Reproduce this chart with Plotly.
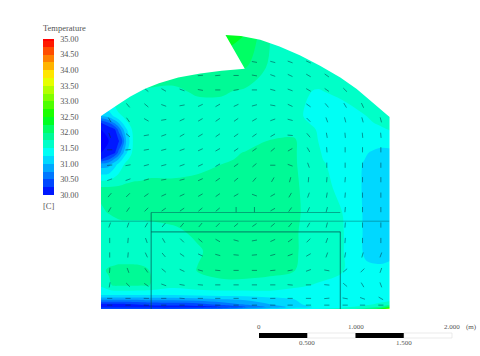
import plotly.graph_objects as go
import math

PX_PER_M = 96.5

grid_x = [0, .08, .14, .18, .22, .26, .33, .42, .5, .75, 1, 1.25, 1.5, 1.75, 2, 2.25, 2.5, 2.75, 2.9, 3]
grid_y = [0, .02, .05, .1, .15, .25, .4, .6, .8, 1.0, 1.25, 1.5, 1.55, 1.62, 1.74, 1.86, 1.93, 2.0, 2.25, 2.5, 2.85]
temperature = [
    [30.5, 30.5, 30.5, 30.5, 30.5, 30.5, 30.5, 30.5, 30.5, 30.5, 30.6, 30.7, 31.0, 31.2, 31.4, 31.5, 31.6, 31.9, 32.4, 33.6],
    [30.15, 30.15, 30.15, 30.15, 30.15, 30.15, 30.15, 30.15, 30.15, 30.15, 30.15, 30.25, 30.5, 30.8, 31.1, 31.3, 31.45, 31.6, 31.8, 32.3],
    [30.2, 30.2, 30.2, 30.2, 30.2, 30.22, 30.25, 30.28, 30.3, 30.35, 30.4, 30.6, 30.8, 31.0, 31.2, 31.35, 31.4, 31.45, 31.55, 31.7],
    [30.8, 30.8, 30.8, 30.8, 30.8, 30.8, 30.8, 30.82, 30.85, 30.85, 30.9, 31.0, 31.05, 31.15, 31.25, 31.35, 31.4, 31.4, 31.4, 31.4],
    [31.3, 31.3, 31.3, 31.3, 31.3, 31.3, 31.3, 31.3, 31.3, 31.3, 31.35, 31.35, 31.35, 31.4, 31.4, 31.42, 31.4, 31.35, 31.3, 31.3],
    [31.55, 31.7, 31.8, 31.8, 31.8, 31.8, 31.8, 31.78, 31.76, 31.6, 31.65, 31.7, 31.7, 31.65, 31.55, 31.48, 31.38, 31.35, 31.3, 31.3],
    [31.7, 31.78, 31.8, 31.82, 31.82, 31.82, 31.82, 31.8, 31.75, 31.62, 31.76, 31.82, 31.82, 31.82, 31.76, 31.6, 31.52, 31.3, 31.3, 31.3],
    [31.6, 31.6, 31.6, 31.6, 31.6, 31.6, 31.6, 31.6, 31.6, 31.62, 31.72, 31.85, 31.85, 31.85, 31.78, 31.62, 31.52, 31.2, 31.15, 31.2],
    [31.6, 31.6, 31.6, 31.6, 31.6, 31.6, 31.6, 31.6, 31.62, 31.7, 31.8, 31.87, 31.87, 31.87, 31.78, 31.62, 31.52, 31.2, 31.1, 31.12],
    [31.72, 31.76, 31.8, 31.83, 31.85, 31.85, 31.85, 31.85, 31.85, 31.85, 31.88, 31.92, 31.92, 31.92, 31.8, 31.62, 31.5, 31.2, 31.1, 31.1],
    [31.8, 31.8, 31.8, 31.8, 31.8, 31.8, 31.8, 31.8, 31.8, 31.8, 31.82, 31.85, 31.85, 31.85, 31.8, 31.58, 31.45, 31.2, 31.1, 31.12],
    [30.85, 30.9, 31.15, 31.3, 31.45, 31.55, 31.62, 31.64, 31.68, 31.68, 31.7, 31.75, 31.82, 31.87, 31.78, 31.55, 31.4, 31.22, 31.12, 31.15],
    [30.25, 30.5, 30.8, 31.0, 31.25, 31.45, 31.6, 31.62, 31.65, 31.64, 31.66, 31.72, 31.78, 31.85, 31.78, 31.53, 31.38, 31.24, 31.16, 31.18],
    [30.0, 30.05, 30.2, 30.55, 30.9, 31.2, 31.55, 31.62, 31.64, 31.64, 31.64, 31.7, 31.76, 31.84, 31.78, 31.52, 31.36, 31.26, 31.2, 31.2],
    [30.0, 30.0, 30.05, 30.2, 30.5, 31.0, 31.5, 31.62, 31.62, 31.62, 31.62, 31.64, 31.68, 31.76, 31.78, 31.5, 31.32, 31.3, 31.32, 31.34],
    [30.0, 30.05, 30.2, 30.55, 30.9, 31.2, 31.55, 31.62, 31.6, 31.6, 31.6, 31.6, 31.62, 31.66, 31.68, 31.48, 31.35, 31.38, 31.45, 31.52],
    [30.25, 30.5, 30.8, 31.0, 31.25, 31.45, 31.6, 31.62, 31.6, 31.6, 31.6, 31.6, 31.6, 31.6, 31.58, 31.45, 31.38, 31.45, 31.55, 31.65],
    [31.0, 31.1, 31.3, 31.45, 31.5, 31.58, 31.62, 31.64, 31.62, 31.62, 31.62, 31.62, 31.6, 31.6, 31.55, 31.42, 31.4, 31.5, 31.65, 31.78],
    [31.9, 31.85, 31.8, 31.78, 31.76, 31.75, 31.74, 31.73, 31.72, 31.7, 31.78, 31.78, 31.7, 31.6, 31.55, 31.48, 31.55, 31.65, 31.7, 31.72],
    [31.9, 31.9, 31.9, 31.9, 31.9, 31.9, 31.9, 31.9, 31.9, 31.9, 31.9, 31.95, 32.0, 31.7, 31.68, 31.65, 31.65, 31.7, 31.72, 31.72],
    [32.0, 32.0, 32.0, 32.0, 32.0, 32.0, 32.0, 32.0, 32.0, 32.0, 32.2, 32.5, 32.25, 31.75, 31.7, 31.7, 31.7, 31.7, 31.7, 31.7],
]

arrow_x = [.09, .28, .47, .65, .84, 1.03, 1.21, 1.40, 1.59, 1.78, 1.96, 2.15, 2.34, 2.53, 2.71, 2.90]
arrow_y = [2.56, 2.42, 2.27, 2.11, 1.96, 1.80, 1.65, 1.49, 1.34, 1.18, 1.03, .87, .71, .56, .40, .25, .11, .04]
arrow_angle = [
    [0, 0, 0, 0, 0, 0, 0, 0, -10, -15, -20, -25, -30, -35, -40, -45],
    [0, 0, 0, 0, 0, 5, 5, 0, -10, -20, -25, -30, -35, -40, -45, -50],
    [-45, -45, -40, -30, -20, -10, 0, 10, 0, -15, -20, -30, -35, -45, -50, -55],
    [-50, -50, -40, -20, 10, 25, 30, 25, 15, -10, -25, -35, -50, -60, -65, -70],
    [-60, -55, -30, 10, 25, 30, 35, 35, 30, 20, -15, -45, -70, -75, -75, -75],
    [-70, -40, 10, 20, 30, 30, 35, 35, 35, 30, -5, -50, -80, -85, -85, -85],
    [0, 5, 10, 15, 20, 25, 30, 35, 35, 40, 30, -60, -85, -90, -90, -90],
    [5, 10, 15, 15, 20, 25, 30, 35, 40, 0, -20, -70, 90, 90, 90, 90],
    [20, 20, 15, 10, 15, 25, 35, 40, 50, 60, 75, 85, 85, 85, 90, 90],
    [50, 45, 35, 25, 25, 30, 35, 30, -20, 30, 60, 70, 80, 85, 90, 90],
    [60, 55, 45, 35, 35, 40, 40, 90, 90, 30, 55, 65, 75, 85, 90, 90],
    [70, 70, 60, 50, 50, 50, 45, 40, 35, 40, 50, 60, 75, 85, 90, 90],
    [90, 85, -70, -60, -45, -40, -30, -15, 10, 25, 35, 45, 70, 85, 90, 90],
    [90, 85, -65, -50, -35, -25, -15, -5, 5, 15, 20, 30, 70, 80, 75, 70],
    [85, -70, -55, -40, -25, -15, -5, 0, 0, 5, 10, 20, -10, 40, 45, 70],
    [80, -45, -35, -20, -10, -5, 0, 0, 0, 0, -5, 0, -5, -40, -60, -70],
    [0, 0, 0, 0, -5, 0, 0, 0, 0, 0, 0, 0, 5, -10, -20, -30],
    [0, 0, 0, 0, 0, 0, 0, 0, 0, 0, 0, 0, 0, 0, 0, 0],
]

domain_outline = [
    (0, 2.0), (.15, 2.1), (.3, 2.2), (.45, 2.28), (.6, 2.34), (.8, 2.4), (1.03, 2.44), (1.25, 2.47), (1.49, 2.49),
    (1.29, 2.84), (1.45, 2.83), (1.65, 2.79), (1.85, 2.72), (2.06, 2.63), (2.27, 2.52), (2.48, 2.40),
    (2.65, 2.28), (2.79, 2.16), (2.99, 1.99), (2.99, 0), (0, 0),
]
inner_lines = [
    ([0, 2.99], [.91, .91], 0.7),
    ([.52, 2.48], [1.0, 1.0], 0.8),
    ([.52, 2.48], [.80, .80], 1.2),
    ([.52, .52], [0, 1.0], 1.2),
    ([2.48, 2.48], [0, .80], 1.2),
]
colorbar_ticks = [30, 30.5, 31, 31.5, 32, 32.5, 33, 33.5, 34, 34.5, 35]
scale_black = [(0, .5), (1, 1.5)]
scale_white = [(.5, 1), (1.5, 2)]
scale_top_labels = [(0, "0"), (1, "1.000"), (2, "2.000")]
scale_bottom_labels = [(.5, "0.500"), (1.5, "1.500")]

x_range = [-101 / PX_PER_M, 379 / PX_PER_M]
y_range = [-47 / PX_PER_M, 309 / PX_PER_M]
SCALE_X0 = (259 - 101) / PX_PER_M
TEXT = "#555555"
FONT = "Liberation Serif"

fig = go.Figure()
fig.add_trace(go.Contour(
    x=grid_x, y=grid_y, z=temperature, zmin=30, zmax=35,
    autocontour=False,
    contours=dict(start=30, end=35, size=.25, coloring="fill", showlines=False),
    line=dict(width=0, smoothing=1),
    colorscale=[[0, "#0000ff"], [.25, "#00f0ff"], [.275, "#00fff5"], [.325, "#00ffc8"], [.375, "#00fa96"],
                [.425, "#00ff64"], [.5, "#00ff00"], [.75, "#ffff00"], [1, "#ff0000"]],
    colorbar=dict(
        x=43 / 480, xanchor="left", xpad=0, y=1 - 39 / 356, yanchor="top", ypad=0,
        thickness=11, len=156, lenmode="pixels", outlinewidth=0,
        tickmode="array", tickvals=colorbar_ticks, ticktext=[f"{v:.2f}" for v in colorbar_ticks],
        ticks="outside", ticklen=5, tickcolor="rgba(0,0,0,0)",
        tickfont=dict(family=FONT, size=8.2, color=TEXT),
    ),
    hoverinfo="skip",
))

ax, ay = [], []
half = 2.6 / PX_PER_M
for row_y, row in zip(arrow_y, arrow_angle):
    for col_x, ang in zip(arrow_x, row):
        dx, dy = half * math.cos(math.radians(ang)), half * math.sin(math.radians(ang))
        ax += [col_x - dx, col_x + dx, None]
        ay += [row_y - dy, row_y + dy, None]
fig.add_trace(go.Scatter(x=ax, y=ay, mode="lines", line=dict(color="rgba(0,50,60,0.5)", width=1),
                         showlegend=False, hoverinfo="skip"))
for lx, ly, w in inner_lines:
    fig.add_trace(go.Scatter(x=lx, y=ly, mode="lines", line=dict(color="rgba(0,80,80,0.6)", width=w),
                             showlegend=False, hoverinfo="skip"))

big = f"M{x_range[0]},{y_range[0]}L{x_range[1]},{y_range[0]}L{x_range[1]},{y_range[1]}L{x_range[0]},{y_range[1]}Z"
inner = "M" + "L".join(f"{px},{py}" for px, py in domain_outline) + "Z"
shapes = [dict(type="path", path=big + inner, fillcolor="white", line_width=0, layer="above", fillrule="evenodd")]
bar_y0, bar_y1 = -29 / PX_PER_M, -24 / PX_PER_M
for a, b in scale_white:
    shapes.append(dict(type="rect", x0=SCALE_X0 + a, x1=SCALE_X0 + b, y0=bar_y0, y1=bar_y1,
                       fillcolor="white", line=dict(color="#dddddd", width=.6), layer="above"))
for a, b in scale_black:
    shapes.append(dict(type="rect", x0=SCALE_X0 + a, x1=SCALE_X0 + b, y0=bar_y0, y1=bar_y1,
                       fillcolor="black", line_width=0, layer="above"))

annotations = [
    dict(x=42 / 480, y=1 - 28 / 356, xref="paper", yref="paper", xanchor="left", yanchor="middle",
         text="Temperature", showarrow=False, borderpad=0, font=dict(family=FONT, size=8.5, color=TEXT)),
    dict(x=42 / 480, y=1 - 206 / 356, xref="paper", yref="paper", xanchor="left", yanchor="middle",
         text="[C]", showarrow=False, borderpad=0, font=dict(family=FONT, size=8.5, color=TEXT)),
    dict(x=SCALE_X0 + 2.2, y=-18 / PX_PER_M, xref="x", yref="y", text="(m)", showarrow=False,
         font=dict(family=FONT, size=7, color=TEXT)),
]
for v, t in scale_top_labels:
    annotations.append(dict(x=SCALE_X0 + v, y=-18 / PX_PER_M, xref="x", yref="y", text=t, showarrow=False,
                            font=dict(family=FONT, size=7, color=TEXT)))
for v, t in scale_bottom_labels:
    annotations.append(dict(x=SCALE_X0 + v, y=-34 / PX_PER_M, xref="x", yref="y", text=t, showarrow=False,
                            font=dict(family=FONT, size=7, color=TEXT)))

fig.update_layout(
    width=480, height=356, margin=dict(l=0, r=0, t=0, b=0),
    paper_bgcolor="white", plot_bgcolor="white", showlegend=False,
    xaxis=dict(range=x_range, visible=False, fixedrange=True),
    yaxis=dict(range=y_range, visible=False, fixedrange=True),
    shapes=shapes, annotations=annotations,
)
fig.write_html("out.html", config={"displayModeBar": False},
               post_script="document.body.style.margin='0';document.body.style.overflow='hidden';")
